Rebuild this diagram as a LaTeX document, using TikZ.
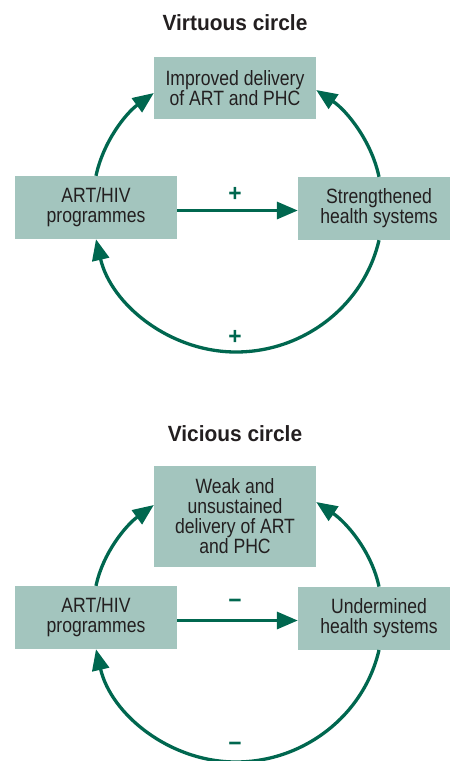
\documentclass[tikz,border=0pt]{standalone}
\usepackage{fontspec}
\setmainfont{Liberation Sans}[FakeStretch=0.85]
\newfontfamily\titlefont{Liberation Sans}[FakeStretch=0.95]
\usetikzlibrary{arrows.meta}
\definecolor{boxfill}{HTML}{A3C5BE}
\definecolor{arr}{HTML}{00674F}
\definecolor{txt}{HTML}{231F20}
\begin{document}
\begin{tikzpicture}[x=1pt,y=1pt,
  box/.style={fill=boxfill, minimum width=162pt, minimum height=63pt, inner sep=0pt,
    align=center, text=txt, font=\fontsize{20.7}{20}\selectfont},
  link/.style={draw=arr, line width=3.3pt, -{Triangle[length=21pt,width=17pt]}},
  sign/.style={text=arr, anchor=base, inner sep=0pt, font=\titlefont\fontsize{24}{24}\selectfont\bfseries},
  ttl/.style={text=txt, anchor=base, inner sep=0pt, font=\titlefont\fontsize{22}{22}\selectfont\bfseries}]
\useasboundingbox (0,0) rectangle (450,-761);
\clip (0,0) rectangle (450,-761);

% ---------- Virtuous circle ----------
\node[ttl] (t1) at (235,-30.7) {Virtuous circle};
\node[box, minimum height=62pt] (imp) at (235,-88) {Improved delivery\\of ART and PHC};
\node[box] (art1) at (96,-207.5) {ART/HIV\\programmes};
\node[box] (str) at (379,-208.5) {Strengthened\\health systems};
\coordinate (b1) at (236,-352);

\draw[link] ([yshift=-3pt]art1.east) -- ([yshift=-3pt]art1.east -| str.west);
\draw[link] (art1.north) to[out=78,in=216,looseness=0.88] ([yshift=-5pt]imp.west);
\draw[link] (str.north) to[out=102,in=-34,looseness=0.88] ([yshift=-2pt]imp.east);
\draw[link] (str.south) to[out=-103,in=0,looseness=0.95] (b1)
  to[out=180,in=-77,looseness=0.95] (art1.south);
\node[sign] (p1) at (235,-201.5) {+};
\node[sign] (p2) at (235,-344) {+};

% ---------- Vicious circle ----------
\node[ttl] (t2) at (235,-441.7) {Vicious circle};
\node[box, minimum height=101pt] (weak) at (235,-516.5) {Weak and\\unsustained\\delivery of ART\\and PHC};
\node[box] (art2) at (96,-617.5) {ART/HIV\\programmes};
\node[box] (und) at (379,-618.3) {Undermined\\health systems};
\coordinate (b2) at (236,-762);

\draw[link] ([yshift=-3pt]art2.east) -- ([yshift=-3pt]art2.east -| und.west);
\draw[link] (art2.north) to[out=78,in=216,looseness=0.88] ([yshift=11.5pt]weak.west);
\draw[link] (und.north) to[out=102,in=-34,looseness=0.88] ([yshift=14.5pt]weak.east);
\draw[link] (und.south) to[out=-103,in=0,looseness=0.95] (b2)
  to[out=180,in=-77,looseness=0.95] (art2.south);
\node[sign] (m1) at (235,-608) {\char"2212};
\node[sign] (m2) at (235,-751) {\char"2212};
\end{tikzpicture}
\end{document}
